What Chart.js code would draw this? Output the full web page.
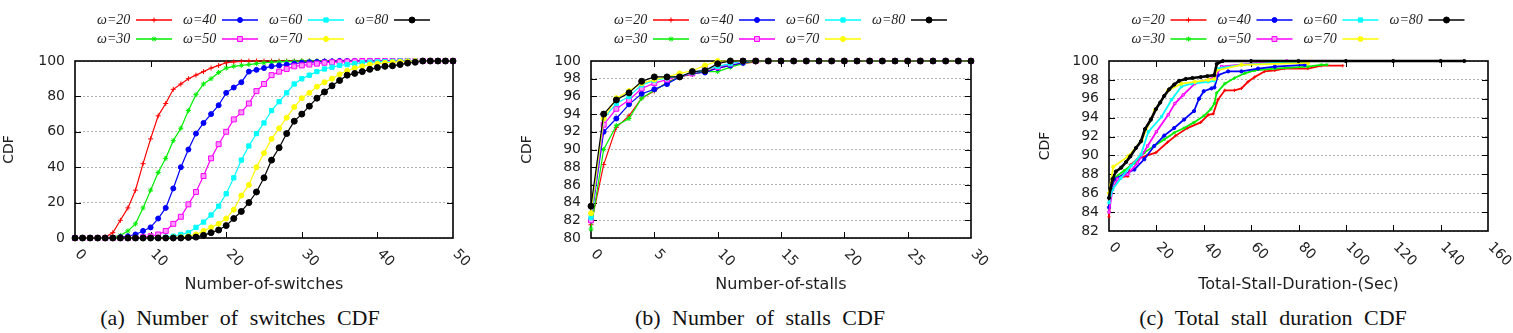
<!DOCTYPE html>
<html>
<head>
<meta charset="utf-8">
<script src="https://cdn.jsdelivr.net/npm/chart.js@4.4.1/dist/chart.umd.min.js"></script>
<style>
  body { margin: 0; background: #fff; width: 1513px; height: 333px; position: relative; overflow: hidden; }
  canvas { position: absolute; top: 0; }
  .cap { position: absolute; top: 306px; width: 504px; line-height: 24px; text-align: center; white-space: nowrap;
         font-family: "Liberation Serif", "Times New Roman", serif; font-size: 22px; word-spacing: 6px; color: #111; }
</style>
</head>
<body>
<canvas id="switchChart" width="504" height="300" style="left:0px"></canvas>
<canvas id="stallChart" width="504" height="300" style="left:504px"></canvas>
<canvas id="durationChart" width="505" height="300" style="left:1008px"></canvas>
<div class="cap" style="left:-12px">(a) Number of switches CDF</div>
<div class="cap" style="left:508px">(b) Number of stalls CDF</div>
<div class="cap" style="left:1021px">(c) Total stall duration CDF</div>
<script>
const windowLabels = ['ω=20', 'ω=30', 'ω=40', 'ω=50', 'ω=60', 'ω=70', 'ω=80'];

// (a) number of switches, x = 0..50
const switchCounts = [
  0, 1, 2, 3, 4, 5, 6, 7, 8, 9,
  10, 11, 12, 13, 14, 15, 16, 17, 18, 19,
  20, 21, 22, 23, 24, 25, 26, 27, 28, 29,
  30, 31, 32, 33, 34, 35, 36, 37, 38, 39,
  40, 41, 42, 43, 44, 45, 46, 47, 48, 49,
  50];
const switchW20 = [
  0, 0, 0, 0, 0.5, 3, 10, 17, 27, 42,
  56, 69, 76, 84, 87, 90, 92, 94, 96, 97.5,
  99, 99.5, 99.8, 100, 100, 100, 100, 100, 100, 100,
  100, 100, 100, 100, 100, 100, 100, 100, 100, 100,
  100, 100, 100, 100, 100, 100, 100, 100, 100, 100,
  100];
const switchW30 = [
  0, 0, 0, 0, 0, 0.5, 1.5, 4, 8, 17,
  27, 37, 45, 55, 62, 72, 81, 87, 90, 93.5,
  96, 97, 97.5, 98, 98.5, 99, 99.3, 99.5, 99.7, 99.8,
  100, 100, 100, 100, 100, 100, 100, 100, 100, 100,
  100, 100, 100, 100, 100, 100, 100, 100, 100, 100,
  100];
const switchW40 = [
  0, 0, 0, 0, 0, 0, 0.5, 1, 2, 4,
  6, 11, 17, 28, 40, 50, 59, 65, 70, 75,
  82, 85, 88, 94, 95, 96, 97, 97.5, 98, 98.5,
  99, 99.3, 99.5, 99.7, 99.8, 100, 100, 100, 100, 100,
  100, 100, 100, 100, 100, 100, 100, 100, 100, 100,
  100];
const switchW50 = [
  0, 0, 0, 0, 0, 0, 0, 0, 0, 0.5,
  1, 2, 4, 8, 12, 19, 26, 35, 45, 53,
  60, 67, 71, 76, 83, 87, 92, 94, 95.5, 97,
  97.5, 98, 98.5, 99, 99.3, 99.5, 99.7, 99.8, 100, 100,
  100, 100, 100, 100, 100, 100, 100, 100, 100, 100,
  100];
const switchW60 = [
  0, 0, 0, 0, 0, 0, 0, 0, 0, 0,
  0, 0, 0.5, 1, 2, 3, 6, 9, 13, 18,
  25, 34, 44, 52, 59, 65, 72, 77, 82, 87,
  90, 92, 94, 95.5, 96.5, 97.5, 98, 98.5, 99, 99.3,
  99.5, 99.7, 99.8, 100, 100, 100, 100, 100, 100, 100,
  100];
const switchW70 = [
  0, 0, 0, 0, 0, 0, 0, 0, 0, 0,
  0, 0, 0, 0.3, 0.5, 1, 2, 4, 6, 8,
  11, 16, 24, 30, 40, 48, 56, 62, 68, 74,
  79, 82, 85.5, 88, 90, 92.5, 94.5, 96, 97, 98,
  98.5, 99, 99.3, 99.6, 99.8, 100, 100, 100, 100, 100,
  100];
const switchW80 = [
  0, 0, 0, 0, 0, 0, 0, 0, 0, 0,
  0, 0, 0, 0, 0, 0.3, 0.5, 1.5, 3, 4.5,
  7, 11, 15, 20, 26, 34, 44, 51, 59, 66,
  70, 74.5, 79, 82.5, 86, 89, 92, 93, 94, 95.3,
  96.3, 97, 97.3, 98, 98.8, 99.3, 100, 100, 100, 100,
  100];

// (b) number of stalls, x = 0..30
const stallCounts = [
  0, 1, 2, 3, 4, 5, 6, 7, 8, 9,
  10, 11, 12, 13, 14, 15, 16, 17, 18, 19,
  20, 21, 22, 23, 24, 25, 26, 27, 28, 29, 30];
const stallW20 = [
  81.5, 88.3, 92.5, 93.8, 95.8, 96.6, 97.6, 98.2, 98.5, 98.8,
  99.2, 99.5, 99.7, 99.9, 100, 100, 100, 100, 100, 100,
  100, 100, 100, 100, 100, 100, 100, 100, 100, 100, 100];
const stallW30 = [
  81, 90, 92.7, 93.5, 95.8, 96.7, 97.5, 98.2, 98.6, 98.8,
  98.8, 99.3, 99.7, 100, 100, 100, 100, 100, 100, 100,
  100, 100, 100, 100, 100, 100, 100, 100, 100, 100, 100];
const stallW40 = [
  82, 92, 93.5, 95.1, 96.3, 96.8, 97.4, 98.2, 98.6, 98.7,
  99.2, 99.5, 99.8, 100, 100, 100, 100, 100, 100, 100,
  100, 100, 100, 100, 100, 100, 100, 100, 100, 100, 100];
const stallW50 = [
  82, 92.8, 94.6, 95.6, 96.9, 97.5, 97.9, 98.3, 98.6, 99.1,
  99.3, 99.7, 100, 100, 100, 100, 100, 100, 100, 100,
  100, 100, 100, 100, 100, 100, 100, 100, 100, 100, 100];
const stallW60 = [
  82.3, 93.5, 95.2, 96, 97.3, 97.8, 98.1, 98.3, 98.7, 99,
  99.4, 99.7, 100, 100, 100, 100, 100, 100, 100, 100,
  100, 100, 100, 100, 100, 100, 100, 100, 100, 100, 100];
const stallW70 = [
  82.8, 93.5, 95.8, 96.6, 97.5, 97.9, 98.2, 98.6, 98.9, 99.5,
  100, 100, 100, 100, 100, 100, 100, 100, 100, 100,
  100, 100, 100, 100, 100, 100, 100, 100, 100, 100, 100];
const stallW80 = [
  83.6, 94, 95.6, 96.4, 97.7, 98.2, 98.2, 98.2, 98.8, 98.9,
  99.7, 100, 100, 100, 100, 100, 100, 100, 100, 100,
  100, 100, 100, 100, 100, 100, 100, 100, 100, 100, 100];

// (c) total stall duration (sec), each series has its own x samples
const durSecW20 = [0, 0.5, 1.5, 3, 5, 8, 9, 12, 16, 19.8, 24.7, 28.2, 33.1, 38.7, 41.9, 44, 46, 48.9, 53, 55.9, 58.7, 61.5, 65.7, 70, 74, 84, 89.6, 98.7];
const durCdfW20 = [83.5, 85.5, 87, 87.6, 87.7, 87.8, 89, 89.6, 90, 90.3, 91.4, 92.1, 92.9, 93.5, 94.3, 94.4, 95.9, 96.9, 96.9, 97.1, 97.8, 98.3, 98.9, 99, 99.2, 99.2, 99.5, 99.5];
const durSecW30 = [0, 0.5, 2.2, 6.5, 10.7, 14.9, 19.1, 23.3, 27.5, 31.7, 35.9, 40.1, 43, 44.5, 45.4, 48.9, 53, 57.3, 61.5, 70, 84, 89.6, 92];
const durCdfW30 = [84, 86, 87.6, 88.4, 89.2, 90.3, 91, 91.7, 92.4, 92.9, 93.5, 94.2, 94.9, 95.5, 96.6, 97.6, 98.2, 98.7, 99, 99.2, 99.4, 99.6, 99.6];
const durSecW40 = [0, 0.8, 2.2, 6.5, 10.7, 14.9, 19.1, 23.3, 27.5, 31.7, 35.9, 38, 40, 43.3, 44.5, 46, 50.3, 55.9, 62.9, 70, 82.6];
const durCdfW40 = [84.5, 86.4, 87.5, 88, 88.5, 89.6, 91, 92.1, 92.9, 93.8, 94.7, 96, 96.8, 97.1, 97.2, 98.5, 98.9, 98.9, 99.2, 99.4, 99.6];
const durSecW50 = [0, 1.5, 3.6, 7.9, 12, 16.3, 20, 25, 27.8, 31.3, 36.2, 44.7, 47.5, 62.9, 75];
const durCdfW50 = [84, 86.4, 87.5, 88, 89.2, 91, 92.5, 94.3, 95.5, 96.4, 97.6, 98.3, 99.4, 99.8, 100];
const durSecW60 = [0, 1.5, 5, 9.3, 13.5, 16.6, 22.2, 26.4, 30.6, 34.8, 41.9, 44.5, 45.4, 55.9, 70, 84];
const durCdfW60 = [85, 86.4, 87.6, 88.9, 90.1, 92.5, 94.1, 95.9, 97.3, 97.6, 97.8, 97.9, 99.2, 99.6, 99.8, 99.9];
const durSecW70 = [0, 1.8, 8.1, 13.8, 19.4, 25, 30.6, 36.2, 41.9, 44.5, 45.4, 55.9, 84];
const durCdfW70 = [86, 88.8, 89.9, 91.6, 94.8, 96.9, 97.6, 97.8, 98, 98.1, 99, 99.6, 99.8];
const durSecW80 = [0, 0.6, 1.5, 2.9, 5.1, 7.2, 9, 11.4, 13.5, 15.2, 17.7, 19.8, 21.6, 23.3, 25.4, 27.5, 29.6, 32.4, 35.2, 38.7, 41.5, 44.4, 45.5, 48, 60, 80, 100, 120, 140, 150];
const durCdfW80 = [85.5, 86.5, 87.5, 88.3, 88.7, 89.3, 89.9, 90.8, 91.5, 92.8, 93.8, 94.9, 95.6, 96.3, 97, 97.5, 97.9, 98.1, 98.2, 98.3, 98.4, 98.5, 99.7, 100, 100, 100, 100, 100, 100, 100];

const lineColors = ['#ff0000', '#00ee00', '#0000ff', '#ff00ff', '#00ffff', '#ffff00', '#000000'];
const markers = [
  { style: 'cross', radius: 2.5 },
  { style: 'star', radius: 2.5 },
  { style: 'circle', radius: 2.5 },
  { style: 'rect', radius: 3.5, fill: '#ff99ff' },
  { style: 'rect', radius: 3 },
  { style: 'circle', radius: 2.5 },
  { style: 'circle', radius: 3 }
];
const ink = '#1e1e1e';
const sans = '"DejaVu Sans", sans-serif';

function makeSeries(i, xs, ys, dense) {
  const m = markers[i];
  return {
    label: windowLabels[i],
    data: xs.map((x, k) => ({ x: x, y: ys[k] })),
    borderColor: lineColors[i],
    backgroundColor: m.fill || lineColors[i],
    borderWidth: dense ? (i === 6 ? 2.6 : 1.8) : 1.2,
    pointStyle: m.style,
    pointRadius: dense ? 1.6 : m.radius,
    pointBorderWidth: 1,
    pointBorderColor: lineColors[i],
    pointBackgroundColor: m.fill || lineColors[i],
    order: 7 - i,
    clip: 6
  };
}

// gnuplot style frame, inward tics, rotated x labels and the two-row key
const gnuplotLook = {
  id: 'gnuplotLook',
  beforeDatasetsDraw(chart) {
    const { ctx, chartArea: a, scales: { x, y } } = chart;
    ctx.save();
    ctx.strokeStyle = '#000';
    ctx.lineWidth = 1;
    ctx.beginPath();
    y.ticks.forEach(t => {
      if (t.value <= y.min || t.value >= y.max) return;
      const py = Math.round(y.getPixelForValue(t.value)) + 0.5;
      ctx.moveTo(a.left, py); ctx.lineTo(a.left + 6, py);
      ctx.moveTo(a.right, py); ctx.lineTo(a.right - 6, py);
    });
    x.ticks.forEach(t => {
      if (t.value <= x.min || t.value >= x.max) return;
      const px = Math.round(x.getPixelForValue(t.value)) + 0.5;
      ctx.moveTo(px, a.bottom); ctx.lineTo(px, a.bottom - 6);
      ctx.moveTo(px, a.top); ctx.lineTo(px, a.top + 6);
    });
    ctx.stroke();
    ctx.lineWidth = 1.6;
    ctx.strokeRect(a.left, a.top, a.right - a.left, a.bottom - a.top);
    ctx.restore();
  },
  afterDraw(chart) {
    const { ctx, chartArea: a, scales: { x } } = chart;
    ctx.save();
    ctx.font = '14px ' + sans;
    ctx.fillStyle = ink;
    ctx.textAlign = 'left';
    ctx.textBaseline = 'middle';
    x.ticks.forEach(t => {
      ctx.save();
      ctx.translate(x.getPixelForValue(t.value) + 2, a.bottom + 14);
      ctx.rotate(Math.PI / 4);
      ctx.fillText(String(t.value), 0, 0);
      ctx.restore();
    });

    const start = (a.left + a.right) / 2 - 167;
    chart.data.datasets.forEach((ds, i) => {
      const col = Math.floor(i / 2), row = i % 2;
      const tx = start + col * 86;
      const ty = row === 0 ? 20 : 39;
      ctx.font = 'italic 14px "Liberation Serif", serif';
      ctx.fillStyle = ink;
      ctx.fillText(ds.label, tx, ty);
      ctx.strokeStyle = ds.borderColor;
      ctx.lineWidth = 1.4;
      ctx.beginPath();
      ctx.moveTo(tx + 39, ty);
      ctx.lineTo(tx + 75, ty);
      ctx.stroke();
      ctx.fillStyle = ds.pointBackgroundColor;
      ctx.lineWidth = 1;
      Chart.helpers.drawPoint(ctx, { pointStyle: ds.pointStyle, radius: markers[i].radius, borderWidth: 1, rotation: 0 }, tx + 57, ty);
    });
    ctx.restore();
  }
};

function drawPanel(id, box, xAxis, yAxis, datasets) {
  const canvas = document.getElementById(id);
  new Chart(canvas.getContext('2d'), {
    type: 'line',
    data: { datasets: datasets },
    options: {
      responsive: false,
      animation: false,
      layout: { padding: { top: box.top, right: canvas.width - box.right, bottom: 0, left: 0 } },
      plugins: { legend: { display: false }, tooltip: { enabled: false } },
      scales: {
        x: {
          type: 'linear', min: xAxis.min, max: xAxis.max,
          afterFit: s => { s.height = canvas.height - box.bottom; },
          ticks: { stepSize: xAxis.step, display: false },
          grid: { display: false },
          border: { display: false },
          title: { display: true, text: xAxis.title, color: ink, font: { family: sans, size: 16 }, padding: { top: 0, bottom: 6 } }
        },
        y: {
          type: 'linear', min: yAxis.min, max: yAxis.max,
          afterFit: s => { s.width = box.left; },
          ticks: { stepSize: yAxis.step, autoSkip: false, color: ink, font: { family: sans, size: 14 }, padding: 10 },
          grid: { color: '#b4b4b4', lineWidth: 1, drawTicks: false },
          border: { display: false, dash: [2, 2] },
          title: { display: true, text: 'CDF', color: ink, font: { family: sans, size: 14 }, padding: { top: yAxis.titleGap, bottom: 0 } }
        }
      }
    },
    plugins: [gnuplotLook]
  });
}

drawPanel('switchChart',
  { left: 75, right: 453, top: 61, bottom: 238 },
  { min: 0, max: 50, step: 10, title: 'Number-of-switches' },
  { min: 0, max: 100, step: 20, titleGap: 1 },
  [switchW20, switchW30, switchW40, switchW50, switchW60, switchW70, switchW80]
    .map((ys, i) => makeSeries(i, switchCounts, ys, false)));

drawPanel('stallChart',
  { left: 87, right: 467, top: 61, bottom: 238 },
  { min: 0, max: 30, step: 5, title: 'Number-of-stalls' },
  { min: 80, max: 100, step: 2, titleGap: 15 },
  [stallW20, stallW30, stallW40, stallW50, stallW60, stallW70, stallW80]
    .map((ys, i) => makeSeries(i, stallCounts, ys, false)));

drawPanel('durationChart',
  { left: 101, right: 480, top: 61, bottom: 231 },
  { min: 0, max: 160, step: 20, title: 'Total-Stall-Duration-(Sec)' },
  { min: 82, max: 100, step: 2, titleGap: 29 },
  [[durSecW20, durCdfW20], [durSecW30, durCdfW30], [durSecW40, durCdfW40], [durSecW50, durCdfW50],
   [durSecW60, durCdfW60], [durSecW70, durCdfW70], [durSecW80, durCdfW80]]
    .map((p, i) => makeSeries(i, p[0], p[1], true)));
</script>
</body>
</html>
